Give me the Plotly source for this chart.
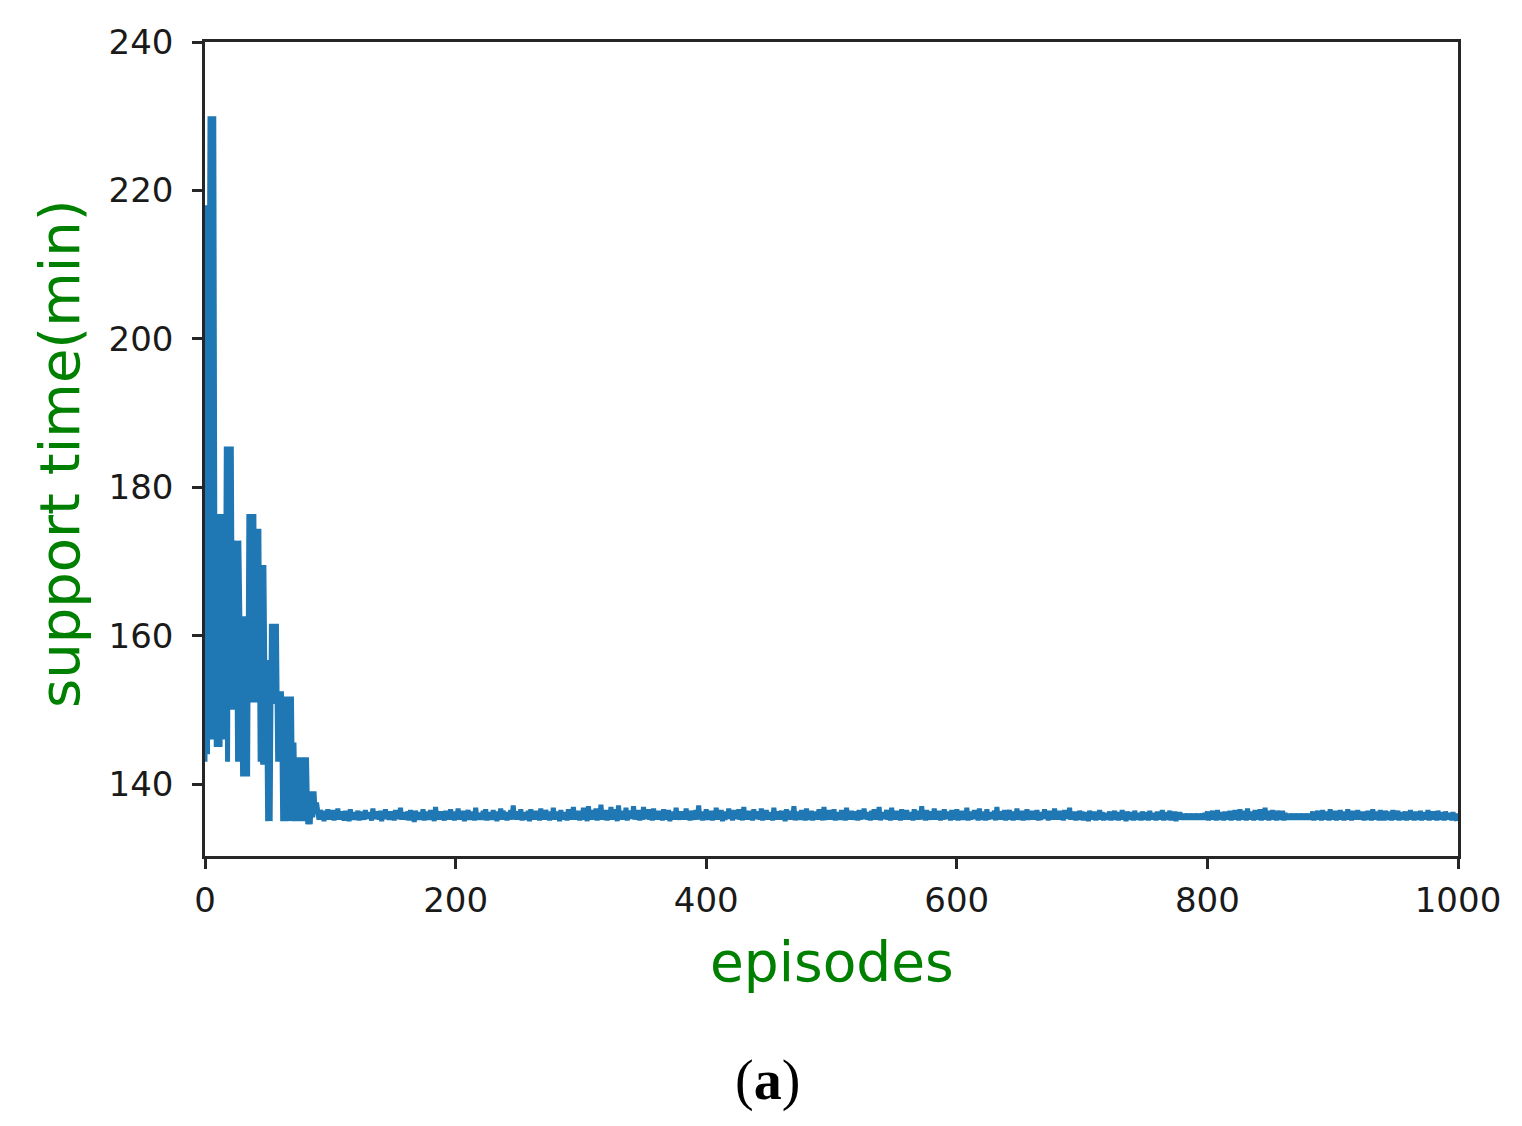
import plotly.graph_objects as go

# Early (episodes 0-99) values
early_values = [
    143, 218, 144, 218, 230, 146, 230, 230, 162, 145,
    162, 176.4, 145, 176.4, 150, 176.4, 146, 185.5, 143, 185.5,
    153, 185.5, 150, 172.8, 153, 172.8, 143, 172.8, 160, 162.6,
    141, 162.6, 150, 162.6, 141, 176.4, 151, 176.4, 155, 176.4,
    151, 174.4, 152, 174.4, 143, 169.5, 142.6, 169.5, 150, 156.7,
    135, 156.7, 135, 161.6, 150.8, 161.6, 151, 161.6, 143, 152.5,
    143, 152.5, 135, 151.8, 135, 151.8, 136, 151.8, 135, 151.8,
    135, 145.6, 135, 143.6, 135, 143.6, 135.2, 143.6, 135, 143.6,
    135.5, 143.6, 134.6, 135.5, 134.6, 139, 135.5, 139, 136, 137.5,
    136.3, 135.2, 136.5, 135.4, 136.1, 135.0, 136.4, 135.3, 136.6, 135.2,
]

# Plateau (episodes 100-999) values
plateau_values = [
    136.2,135.3,136.5,135.1,136.0,135.4,136.7,135.2,136.3,135.5,135.9,135.1,136.4,135.3,136.1,135.0,136.6,135.4,136.2,135.2,
    135.8,135.3,136.4,135.1,136.3,135.6,136.0,135.2,136.5,135.3,136.2,135.4,135.9,135.1,136.7,135.3,136.1,135.5,136.3,135.2,
    136.4,135.0,136.2,135.4,136.6,135.3,135.8,135.2,136.3,135.5,136.1,135.1,136.5,135.4,136.0,135.3,136.8,135.2,136.2,135.4,
    136.0,135.2,136.3,135.1,136.5,135.3,136.1,134.9,136.4,135.4,136.2,135.2,135.9,135.3,136.6,135.1,136.3,135.5,136.0,135.2,
    136.5,135.3,136.2,135.0,136.9,135.4,136.1,135.2,136.3,135.3,135.8,135.1,136.4,135.5,136.2,135.2,136.6,135.3,136.0,135.1,
    136.3,135.4,136.7,135.2,136.1,135.3,136.4,135.0,136.2,135.5,136.5,135.2,136.0,135.3,136.3,135.1,136.8,135.4,136.1,135.2,
    135.9,135.2,136.4,135.3,136.6,135.1,136.2,135.4,136.0,135.2,136.5,135.3,136.3,135.0,136.1,135.4,136.7,135.2,136.4,135.3,
    136.2,135.1,136.0,135.3,136.5,135.2,137.1,135.4,136.3,135.2,136.1,135.3,136.6,135.1,136.2,135.4,135.9,135.2,136.4,135.0,
    136.6,135.3,136.1,135.2,136.4,135.5,136.0,135.1,136.7,135.3,136.2,135.2,136.5,135.4,136.1,135.1,136.3,135.3,136.8,135.2,
    136.1,135.4,136.3,135.0,136.5,135.2,136.2,135.3,136.0,135.1,136.6,135.4,136.3,135.2,136.9,135.3,136.1,135.2,136.4,135.1,
    136.3,135.2,136.8,135.3,136.1,135.0,137.0,135.4,136.5,135.2,136.2,135.3,136.7,135.1,136.4,135.3,137.2,135.2,136.0,135.4,
    136.5,135.1,136.2,135.3,136.9,135.2,136.3,135.4,136.6,135.0,137.1,135.3,136.1,135.2,136.4,135.3,136.8,135.1,136.2,135.4,
    136.4,135.3,137.0,135.2,136.1,135.4,136.5,135.1,136.3,135.2,136.9,135.3,136.0,135.4,136.6,135.2,136.2,135.1,136.7,135.3,
    136.1,135.2,136.4,135.3,136.0,135.1,136.6,135.4,136.2,135.2,136.5,135.0,136.3,135.3,136.1,135.2,136.8,135.4,136.0,135.2,
    136.3,135.4,136.1,135.2,136.7,135.3,136.2,135.1,136.4,135.3,136.0,135.2,136.5,135.4,137.1,135.2,136.3,135.1,136.1,135.3,
    136.6,135.2,136.0,135.3,136.4,135.1,136.2,135.4,136.8,135.2,136.1,135.3,136.5,135.0,136.3,135.2,136.0,135.4,136.7,135.3,
    136.2,135.1,136.5,135.3,136.0,135.4,136.6,135.2,136.3,135.1,136.9,135.3,136.1,135.2,136.4,135.4,136.2,135.1,136.6,135.3,
    136.0,135.4,136.3,135.2,136.7,135.1,136.1,135.3,136.5,135.2,136.2,135.4,136.0,135.1,136.8,135.3,136.3,135.2,136.1,135.4,
    136.4,135.2,136.1,135.0,136.6,135.3,136.2,135.2,136.4,135.4,137.0,135.1,136.3,135.3,136.0,135.2,136.5,135.3,136.2,135.1,
    136.7,135.3,136.0,135.2,136.4,135.1,136.3,135.4,136.1,135.2,136.6,135.3,136.2,135.1,136.9,135.2,136.0,135.4,136.5,135.2,
    136.1,135.3,136.6,135.1,136.2,135.4,136.0,135.2,136.5,135.3,136.3,135.1,136.8,135.2,136.1,135.3,136.4,135.2,136.0,135.4,
    136.3,135.1,136.5,135.2,136.1,135.3,136.7,135.4,136.2,135.2,136.0,135.1,136.4,135.3,136.6,135.2,136.2,135.4,136.9,135.1,
    136.2,135.3,136.0,135.4,136.5,135.2,136.3,135.1,136.8,135.3,136.1,135.2,136.4,135.4,136.0,135.1,136.6,135.3,136.2,135.2,
    136.5,135.2,136.2,135.3,136.0,135.1,136.6,135.4,136.1,135.2,136.4,135.3,137.0,135.2,136.2,135.1,136.5,135.3,136.0,135.2,
    136.3,135.4,136.7,135.2,136.1,135.3,136.4,135.1,136.2,135.2,136.6,135.4,136.0,135.3,136.3,135.1,136.5,135.2,136.1,135.3,
    136.6,135.1,136.2,135.3,136.4,135.2,136.0,135.4,136.8,135.1,136.3,135.2,136.1,135.3,136.5,135.4,136.2,135.1,136.7,135.2,
    136.0,135.3,136.3,135.1,136.6,135.2,136.2,135.4,136.0,135.3,136.4,135.1,136.9,135.2,136.1,135.3,136.3,135.2,136.5,135.1,
    136.2,135.4,136.5,135.2,136.1,135.1,136.3,135.3,136.7,135.2,136.0,135.4,136.4,135.1,136.2,135.3,136.6,135.2,136.0,135.3,
    136.4,135.2,136.1,135.3,136.5,135.1,136.2,135.2,136.0,135.4,136.6,135.3,136.2,135.1,136.4,135.2,136.1,135.3,136.7,135.2,
    136.1,135.3,136.4,135.2,136.0,135.1,136.5,135.3,136.2,135.4,136.8,135.2,136.1,135.3,136.3,135.1,136.0,135.2,136.4,135.3,
    136.3,135.1,136.0,135.2,136.2,135.0,136.4,135.3,136.1,135.2,136.3,135.1,136.0,135.3,136.5,135.2,136.2,135.1,136.1,135.3,
    136.0,135.2,136.3,135.1,136.1,135.3,136.4,135.2,136.0,135.1,136.2,135.3,136.5,135.2,136.1,135.0,136.3,135.2,136.0,135.3,
    136.2,135.1,136.4,135.3,136.0,135.2,136.1,135.1,136.3,135.2,136.0,135.3,136.2,135.1,136.4,135.2,136.1,135.3,136.0,135.1,
    136.3,135.2,136.1,135.3,136.5,135.1,136.0,135.2,136.2,135.3,136.4,135.1,136.1,135.2,136.3,135.0,136.0,135.2,136.2,135.3,
    136.0,135.2,135.9,135.3,136.0,135.2,135.9,135.3,136.0,135.2,135.9,135.3,136.0,135.2,135.9,135.3,136.0,135.2,136.1,135.2,
    136.3,135.1,136.0,135.3,136.4,135.2,136.1,135.1,136.5,135.3,136.2,135.2,136.0,135.1,136.3,135.3,136.1,135.2,136.4,135.1,
    136.2,135.3,136.5,135.2,136.1,135.1,136.6,135.3,136.2,135.2,136.4,135.1,136.7,135.3,136.1,135.2,136.3,135.1,136.5,135.3,
    136.3,135.2,136.6,135.1,136.2,135.3,136.8,135.2,136.4,135.1,136.1,135.3,136.5,135.2,136.2,135.1,136.4,135.3,136.0,135.2,
    136.4,135.1,136.1,135.3,136.0,135.2,135.9,135.3,136.0,135.2,135.9,135.3,136.0,135.2,135.9,135.3,136.0,135.2,135.9,135.3,
    136.0,135.2,136.0,135.2,136.3,135.1,136.1,135.3,136.4,135.2,136.2,135.1,136.5,135.3,136.1,135.2,136.3,135.1,136.6,135.2,
    136.2,135.3,136.4,135.1,136.1,135.2,136.5,135.3,136.2,135.1,136.3,135.2,136.6,135.3,136.1,135.1,136.4,135.2,136.2,135.3,
    136.5,135.2,136.1,135.3,136.3,135.1,136.0,135.2,136.4,135.3,136.2,135.1,136.6,135.2,136.1,135.3,136.3,135.1,136.5,135.2,
    136.2,135.1,136.4,135.3,136.0,135.2,136.3,135.1,136.5,135.2,136.1,135.3,136.4,135.1,136.2,135.2,136.0,135.3,136.3,135.1,
    136.1,135.3,136.5,135.2,136.2,135.1,136.3,135.3,136.0,135.2,136.4,135.1,136.1,135.3,136.2,135.2,136.5,135.1,136.0,135.3,
    136.3,135.2,136.1,135.1,136.4,135.3,136.0,135.2,136.2,135.1,136.3,135.2,136.1,135.3,136.0,135.1,136.2,135.2,136.0,135.0,
]

support_time = early_values + plateau_values
episodes = list(range(len(support_time)))

x_ticks = [0, 200, 400, 600, 800, 1000]
y_ticks = [140, 160, 180, 200, 220, 240]
x_title = "episodes"
y_title = "support time(min)"
caption = "(<b>a</b>)"

AX = "#262626"
GREEN = "#008000"

fig = go.Figure()
fig.add_trace(go.Scatter(
    x=episodes, y=support_time, mode="lines",
    line=dict(color="#1f77b4", width=5), showlegend=False, hoverinfo="skip",
))

axis_common = dict(
    showline=True, mirror=True, linecolor=AX, linewidth=2.5,
    ticks="outside", ticklen=10, tickwidth=2.5, tickcolor=AX,
    showgrid=False, zeroline=False,
    tickfont=dict(family="DejaVu Sans", size=34, color="#1a1a1a"),
)

fig.update_layout(
    width=1514, height=1118,
    paper_bgcolor="white", plot_bgcolor="white",
    margin=dict(l=197, r=64, t=34, b=270),
    xaxis=dict(range=[0, 1000], tickvals=x_ticks, ticktext=[str(v) for v in x_ticks],
               ticklabelstandoff=2, **axis_common),
    yaxis=dict(range=[130.3, 240], tickvals=y_ticks, ticktext=[str(v) for v in y_ticks],
               ticklabelstandoff=12, **axis_common),
)

fig.add_annotation(text=x_title, xref="paper", yref="paper", x=0.5004, y=-0.1302,
                   xanchor="center", yanchor="middle", showarrow=False,
                   font=dict(family="DejaVu Sans", size=55, color=GREEN))
fig.add_annotation(text=y_title, xref="paper", yref="paper", x=-0.1157, y=0.4939,
                   xanchor="center", yanchor="middle", showarrow=False, textangle=-90,
                   font=dict(family="DejaVu Sans", size=56, color=GREEN))
fig.add_annotation(text=caption, xref="paper", yref="paper", x=0.4493, y=-0.2752,
                   xanchor="center", yanchor="middle", showarrow=False,
                   font=dict(family="Liberation Serif", size=56, color="black"))

fig.write_html("out.html")
